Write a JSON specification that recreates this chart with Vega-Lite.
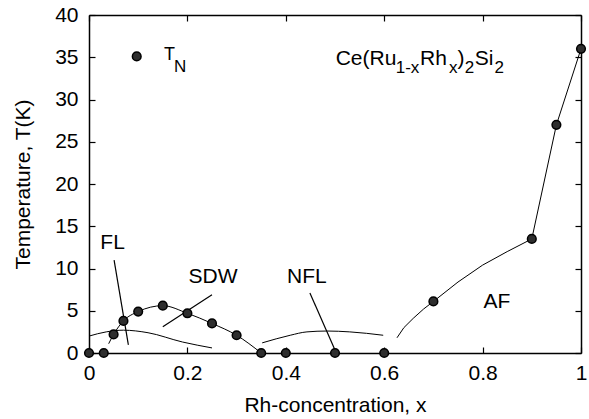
{
  "$schema": "https://vega.github.io/schema/vega-lite/v6.json",
  "width": 492,
  "height": 338,
  "autosize": "none",
  "padding": {"left": 89, "top": 15, "right": 8, "bottom": 66},
  "config": {
    "view": {"stroke": null},
    "font": "Liberation Sans",
    "axis": {
      "grid": false,
      "domainColor": "black",
      "domainWidth": 1.5,
      "tickColor": "black",
      "tickWidth": 1.2,
      "labelColor": "black",
      "titleColor": "black",
      "labelFont": "Liberation Sans",
      "titleFont": "Liberation Sans",
      "labelFontSize": 21,
      "titleFontSize": 21,
      "titleFontWeight": "normal",
      "labelFlush": false
    }
  },
  "datasets": {
    "points": [
      {"x": 0, "t": 0}, {"x": 0.03, "t": 0}, {"x": 0.05, "t": 2.2}, {"x": 0.07, "t": 3.8},
      {"x": 0.1, "t": 4.9}, {"x": 0.15, "t": 5.6}, {"x": 0.2, "t": 4.7}, {"x": 0.25, "t": 3.5},
      {"x": 0.3, "t": 2.1}, {"x": 0.35, "t": 0}, {"x": 0.4, "t": 0}, {"x": 0.5, "t": 0},
      {"x": 0.6, "t": 0}, {"x": 0.7, "t": 6.1}, {"x": 0.9, "t": 13.5}, {"x": 0.95, "t": 27},
      {"x": 1, "t": 36}
    ],
    "curves": [
      {"curve": "sdw", "x": 0.04, "t": 1.1}, {"curve": "sdw", "x": 0.05, "t": 2.2},
      {"curve": "sdw", "x": 0.07, "t": 3.8}, {"curve": "sdw", "x": 0.1, "t": 4.9},
      {"curve": "sdw", "x": 0.15, "t": 5.6}, {"curve": "sdw", "x": 0.2, "t": 4.7},
      {"curve": "sdw", "x": 0.25, "t": 3.5}, {"curve": "sdw", "x": 0.3, "t": 2.1},
      {"curve": "sdw", "x": 0.35, "t": 0},
      {"curve": "fl", "x": 0, "t": 2.0}, {"curve": "fl", "x": 0.035, "t": 2.5},
      {"curve": "fl", "x": 0.07, "t": 2.7}, {"curve": "fl", "x": 0.12, "t": 2.4},
      {"curve": "fl", "x": 0.19, "t": 1.3}, {"curve": "fl", "x": 0.25, "t": 0.6},
      {"curve": "nfl", "x": 0.352, "t": 1.2}, {"curve": "nfl", "x": 0.409, "t": 2.1},
      {"curve": "nfl", "x": 0.443, "t": 2.5}, {"curve": "nfl", "x": 0.484, "t": 2.6},
      {"curve": "nfl", "x": 0.53, "t": 2.5}, {"curve": "nfl", "x": 0.598, "t": 2.1}
    ],
    "af": [
      {"x": 0.626, "t": 1.8}, {"x": 0.64, "t": 3.0}, {"x": 0.659, "t": 4.1},
      {"x": 0.68, "t": 5.2}, {"x": 0.7, "t": 6.1}, {"x": 0.75, "t": 8.4},
      {"x": 0.8, "t": 10.4}, {"x": 0.85, "t": 12.0}, {"x": 0.9, "t": 13.5},
      {"x": 0.95, "t": 27}, {"x": 1, "t": 36}
    ],
    "pointers": [
      {"x": 0.051, "t": 11, "x2": 0.08, "t2": 0.95},
      {"x": 0.25, "t": 6.9, "x2": 0.15, "t2": 3.1},
      {"x": 0.449, "t": 7.1, "x2": 0.5, "t2": 0.35}
    ],
    "labels": [
      {"label": "FL", "x": 0.048, "t": 13.0},
      {"label": "SDW", "x": 0.252, "t": 9.0},
      {"label": "NFL", "x": 0.443, "t": 9.0},
      {"label": "AF", "x": 0.829, "t": 6.0}
    ],
    "legendMain": [{"label": "T", "x": 0.1524, "t": 34.7}],
    "legendSub": [{"label": "N", "x": 0.1728, "t": 33.25}],
    "titleMain": [
      {"label": "Ce(Ru", "x": 0.5014, "t": 34.08},
      {"label": "Rh", "x": 0.673, "t": 34.08},
      {"label": ")", "x": 0.749, "t": 34.08},
      {"label": "Si", "x": 0.784, "t": 34.08}
    ],
    "titleSub": [
      {"label": "1-x", "x": 0.6234, "t": 33.14},
      {"label": "x", "x": 0.7315, "t": 33.14},
      {"label": "2", "x": 0.7635, "t": 33.14},
      {"label": "2", "x": 0.824, "t": 33.14}
    ],
    "legend": [{"x": 0.097, "t": 35.1}]
  },
  "layer": [
    {
      "data": {"name": "curves"},
      "mark": {"type": "line", "interpolate": "monotone", "color": "black", "strokeWidth": 1},
      "encoding": {
        "x": {"field": "x", "type": "quantitative", "scale": {"domain": [0, 1]},
          "axis": {"orient": "bottom", "values": [0, 0.2, 0.4, 0.6, 0.8, 1], "format": "~g", "tickSize": -6, "labelPadding": 15, "title": "Rh-concentration, x", "titlePadding": 11}},
        "y": {"field": "t", "type": "quantitative", "scale": {"domain": [0, 40]},
          "axis": {"orient": "left", "values": [0, 5, 10, 15, 20, 25, 30, 35, 40], "tickSize": -6, "labelPadding": 17, "title": "Temperature, T(K)", "titlePadding": 21}},
        "detail": {"field": "curve"}
      }
    },
    {
      "data": {"name": "af"},
      "mark": {"type": "line", "interpolate": "linear", "color": "black", "strokeWidth": 1},
      "encoding": {
        "x": {"field": "x", "type": "quantitative", "axis": null},
        "y": {"field": "t", "type": "quantitative", "axis": null}
      }
    },
    {
      "data": {"name": "pointers"},
      "mark": {"type": "rule", "color": "black", "strokeWidth": 1.2},
      "encoding": {
        "x": {"field": "x", "type": "quantitative", "scale": {"domain": [0, 1]},
          "axis": {"orient": "top", "values": [0, 0.2, 0.4, 0.6, 0.8, 1], "labels": false, "tickSize": -6, "title": null}},
        "y": {"field": "t", "type": "quantitative", "scale": {"domain": [0, 40]},
          "axis": {"orient": "right", "values": [0, 5, 10, 15, 20, 25, 30, 35, 40], "labels": false, "tickSize": -6, "title": null}},
        "x2": {"field": "x2"},
        "y2": {"field": "t2"}
      }
    },
    {
      "data": {"name": "points"},
      "mark": {"type": "circle", "size": 75, "fill": "#2e2e2e", "stroke": "black", "strokeWidth": 1.5, "opacity": 1},
      "encoding": {
        "x": {"field": "x", "type": "quantitative", "axis": null},
        "y": {"field": "t", "type": "quantitative", "axis": null}
      }
    },
    {
      "data": {"name": "legend"},
      "mark": {"type": "circle", "size": 75, "fill": "#2e2e2e", "stroke": "black", "strokeWidth": 1.5, "opacity": 1},
      "encoding": {
        "x": {"field": "x", "type": "quantitative", "axis": null},
        "y": {"field": "t", "type": "quantitative", "axis": null}
      }
    },
    {
      "data": {"name": "labels"},
      "mark": {"type": "text", "fontSize": 21, "font": "Liberation Sans", "color": "black", "align": "center", "baseline": "middle"},
      "encoding": {
        "x": {"field": "x", "type": "quantitative", "axis": null},
        "y": {"field": "t", "type": "quantitative", "axis": null},
        "text": {"field": "label"}
      }
    },
    {
      "data": {"name": "legendMain"},
      "mark": {"type": "text", "fontSize": 18, "font": "Liberation Sans", "color": "black", "align": "left", "baseline": "alphabetic"},
      "encoding": {
        "x": {"field": "x", "type": "quantitative", "axis": null},
        "y": {"field": "t", "type": "quantitative", "axis": null},
        "text": {"field": "label"}
      }
    },
    {
      "data": {"name": "legendSub"},
      "mark": {"type": "text", "fontSize": 17, "font": "Liberation Sans", "color": "black", "align": "left", "baseline": "alphabetic"},
      "encoding": {
        "x": {"field": "x", "type": "quantitative", "axis": null},
        "y": {"field": "t", "type": "quantitative", "axis": null},
        "text": {"field": "label"}
      }
    },
    {
      "data": {"name": "titleMain"},
      "mark": {"type": "text", "fontSize": 21, "font": "Liberation Sans", "color": "black", "align": "left", "baseline": "alphabetic"},
      "encoding": {
        "x": {"field": "x", "type": "quantitative", "axis": null},
        "y": {"field": "t", "type": "quantitative", "axis": null},
        "text": {"field": "label"}
      }
    },
    {
      "data": {"name": "titleSub"},
      "mark": {"type": "text", "fontSize": 17, "font": "Liberation Sans", "color": "black", "align": "left", "baseline": "alphabetic"},
      "encoding": {
        "x": {"field": "x", "type": "quantitative", "axis": null},
        "y": {"field": "t", "type": "quantitative", "axis": null},
        "text": {"field": "label"}
      }
    }
  ],
  "resolve": {"axis": {"x": "independent", "y": "independent"}}
}
